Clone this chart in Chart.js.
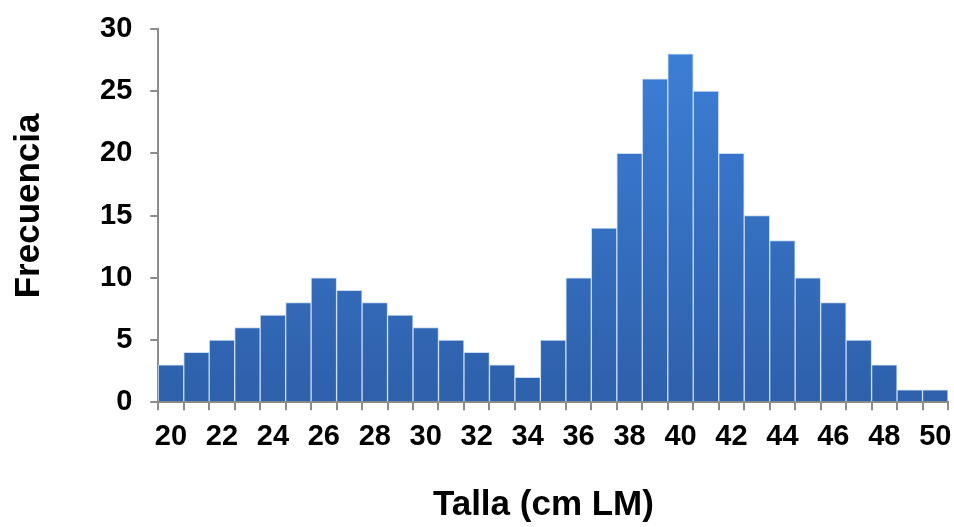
<!DOCTYPE html>
<html>
<head>
<meta charset="utf-8">
<script src="https://cdn.jsdelivr.net/npm/chart.js@4"></script>
<style>
  html, body { margin: 0; padding: 0; background: #fff; }
  #wrap { width: 954px; height: 527px; }
</style>
</head>
<body>
<div id="wrap"><canvas id="chartTalla"></canvas></div>
<script>
// ===== DATOS =====
const tallas = [20, 21, 22, 23, 24, 25, 26, 27, 28, 29, 30, 31, 32, 33, 34, 35,
                36, 37, 38, 39, 40, 41, 42, 43, 44, 45, 46, 47, 48, 49, 50];
const frecuencia = [3, 4, 5, 6, 7, 8, 10, 9, 8, 7, 6, 5, 4, 3, 2, 5,
                    10, 14, 20, 26, 28, 25, 20, 15, 13, 10, 8, 5, 3, 1, 1];
const yTicks = [0, 5, 10, 15, 20, 25, 30];

const FONT = "'Liberation Sans', Arial, sans-serif";
const gris = '#8c8c8c';

// degradado de las barras
function degradado(ctx) {
  const area = ctx.chart.chartArea;
  if (!area) return '#3670c4';
  const g = ctx.chart.ctx.createLinearGradient(0, area.top, 0, area.bottom);
  g.addColorStop(0, '#3d80d8');
  g.addColorStop(1, '#2e60ab');
  return g;
}

new Chart(document.getElementById('chartTalla'), {
  type: 'bar',
  data: {
    labels: tallas.map(String),
    datasets: [{
      data: frecuencia,
      backgroundColor: degradado,
      borderColor: '#c9dcf2',
      borderWidth: 1,
      barPercentage: 1,
      categoryPercentage: 1
    }]
  },
  options: {
    responsive: true,
    maintainAspectRatio: false,
    animation: false,
    layout: { padding: { top: 29, right: 6, bottom: 1, left: 8 } },
    plugins: { legend: { display: false }, tooltip: { enabled: false } },
    scales: {
      x: {
        offset: true,
        afterFit: s => { s.paddingRight = 0; s.paddingLeft = 0; },
        border: { color: gris, width: 2 },
        grid: { offset: true, drawOnChartArea: false, drawTicks: true, tickLength: 8, color: gris, lineWidth: 2 },
        ticks: {
          autoSkip: false,
          maxRotation: 0,
          color: '#000',
          padding: 9,
          font: { family: FONT, size: 29, weight: 'bold' },
          callback: (v, i) => (tallas[i] % 2 === 0 ? tallas[i] : '')
        },
        title: {
          display: true,
          // espacios al final para correr el título un poco a la izquierda
          text: 'Talla (cm LM)  ',
          color: '#000',
          font: { family: FONT, size: 35, weight: 'bold' },
          padding: { top: 21, bottom: 0 }
        }
      },
      y: {
        min: 0,
        max: 30,
        afterFit: s => { s.paddingTop = 0; s.paddingBottom = 0; },
        afterBuildTicks: s => { s.ticks = yTicks.map(v => ({ value: v })); },
        border: { color: gris, width: 2 },
        grid: { drawOnChartArea: false, drawTicks: true, tickLength: 8, color: gris, lineWidth: 2 },
        ticks: {
          color: '#000',
          padding: 18,
          font: { family: FONT, size: 29, weight: 'bold' }
        },
        title: {
          display: true,
          text: '  Frecuencia',
          color: '#000',
          font: { family: FONT, size: 35, weight: 'bold' },
          padding: { top: 0, bottom: 32 }
        }
      }
    }
  }
});
</script>
</body>
</html>
